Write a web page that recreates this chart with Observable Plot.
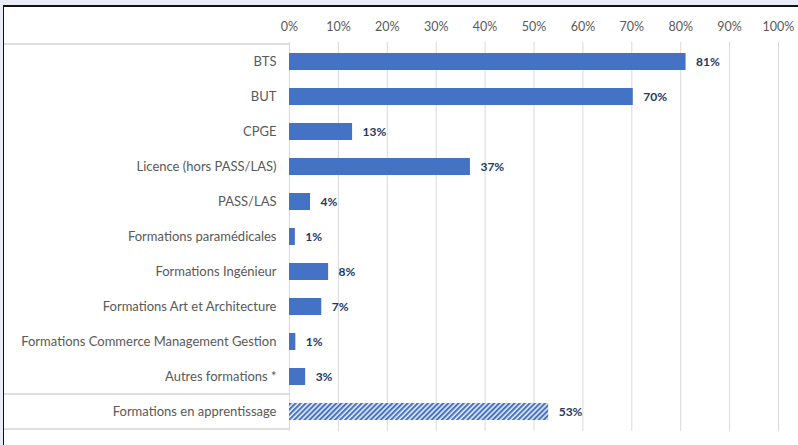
<!DOCTYPE html>
<html>
<head>
<meta charset="utf-8">
<script src="https://cdn.jsdelivr.net/npm/d3@7"></script>
<script src="https://cdn.jsdelivr.net/npm/@observablehq/plot@0.6"></script>
<style>
  html, body { margin: 0; padding: 0; }
  body { width: 798px; height: 445px; background: #e9ecf5; position: relative; overflow: hidden; }
  #frame { position: absolute; left: 3px; top: 5px; width: 800px; height: 445px; background: #fff;
           border-left: 1.5px solid #111; border-top: 2px solid #111; box-sizing: border-box; }
  #chart { position: absolute; left: 0; top: 0; }
</style>
</head>
<body>
<div id="frame"></div>
<div id="chart"></div>
<script>
const categories = [
  "BTS",
  "BUT",
  "CPGE",
  "Licence (hors PASS/LAS)",
  "PASS/LAS",
  "Formations paramédicales",
  "Formations Ingénieur",
  "Formations Art et Architecture",
  "Formations Commerce Management Gestion",
  "Autres formations *",
  "Formations en apprentissage"
];
const values = [81.1, 70.3, 12.9, 37.0, 4.3, 1.2, 8.0, 6.6, 1.3, 3.3, 53.0];
const valueLabels = ["81%", "70%", "13%", "37%", "4%", "1%", "8%", "7%", "1%", "3%", "53%"];
const hatched = ["Formations en apprentissage"];
const xTicks = [0, 10, 20, 30, 40, 50, 60, 70, 80, 90, 100];

const data = categories.map((c, i) => ({cat: c, v: values[i], lab: valueLabels[i], hatch: hatched.includes(c)}));

const chart = Plot.plot({
  width: 798,
  height: 445,
  marginLeft: 289,
  marginRight: 20,
  marginTop: 42,
  marginBottom: 14,
  style: {fontFamily: "Lato, 'Open Sans', sans-serif", background: "transparent", overflow: "visible"},
  x: {domain: [0, 100], label: null},
  y: {domain: categories, paddingInner: 0.51, paddingOuter: 0.255, label: null},
  marks: [
    Plot.gridX(xTicks, {stroke: "#d9d9d9", strokeOpacity: 1, strokeWidth: 1}),
    Plot.axisX(xTicks, {anchor: "top", tickSize: 0, tickPadding: 12, tickFormat: d => d + "%", fill: "#595959", fontSize: 12.5, label: null}),
    Plot.axisY({tickSize: 0, tickPadding: 13, fill: "#595959", fontSize: 13, label: null}),
    Plot.barX(data.filter(d => !d.hatch), {x: "v", y: "cat", fill: "#4472C4"}),
    Plot.barX(data.filter(d => d.hatch), {x: "v", y: "cat", fill: "url(#hatch)"}),
    Plot.text(data, {x: "v", y: "cat", text: "lab", dx: 10, textAnchor: "start", fill: "#1f3864", fontWeight: "bold", fontSize: 12})
  ]
});

document.getElementById("chart").appendChild(chart);

const svg = d3.select(chart);
const defs = svg.insert("defs", ":first-child");
const pat = defs.append("pattern")
  .attr("id", "hatch")
  .attr("patternUnits", "userSpaceOnUse")
  .attr("width", 3.6).attr("height", 3.6)
  .attr("patternTransform", "rotate(45)");
pat.append("rect").attr("width", 3.6).attr("height", 3.6).attr("fill", "#e4eaf7");
pat.append("rect").attr("width", 2).attr("height", 3.6).attr("fill", "#4472C4");

// label table lines (left panel)
const ys = chart.scale("y");
const xs = chart.scale("x");
const step = ys.step, bw = ys.bandwidth;
const rowTop = c => ys.apply(c) - (step - bw) / 2;
const x0 = xs.apply(0);
const lines = [rowTop(categories[0]), rowTop(hatched[0]), rowTop(hatched[0]) + step];
svg.append("g").selectAll("line").data(lines).join("line")
  .attr("x1", 4).attr("x2", x0).attr("y1", d => d).attr("y2", d => d)
  .attr("stroke", "#d4d4d4").attr("stroke-width", 1.5);
</script>
</body>
</html>
